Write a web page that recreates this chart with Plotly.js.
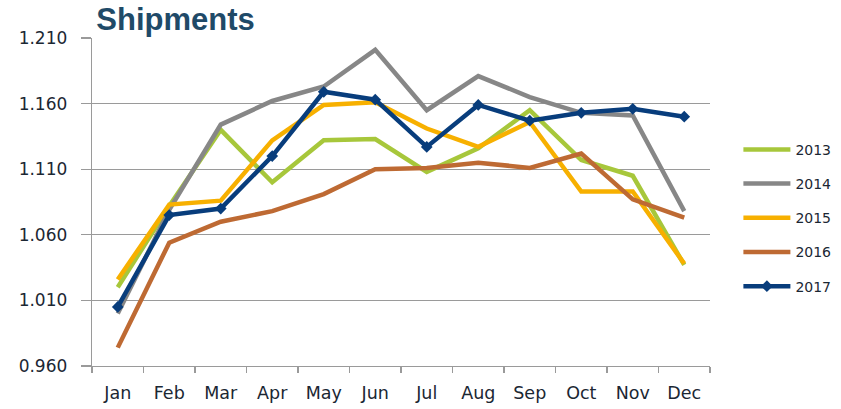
<!DOCTYPE html>
<html>
<head>
<meta charset="utf-8">
<script src="https://cdn.plot.ly/plotly-3.0.1.min.js"></script>
<style>html,body{margin:0;padding:0;background:#fff;}#chart{width:841px;height:409px;}</style>
</head>
<body>
<div id="chart"></div>
<script>
const months = ["Jan","Feb","Mar","Apr","May","Jun","Jul","Aug","Sep","Oct","Nov","Dec"];
const seriesNames = ["2013","2014","2015","2016","2017"];
const v2013 = [1.020, 1.082, 1.140, 1.100, 1.132, 1.133, 1.108, 1.126, 1.155, 1.117, 1.105, 1.037];
const v2014 = [1.000, 1.079, 1.144, 1.162, 1.173, 1.201, 1.155, 1.181, 1.165, 1.153, 1.151, 1.078];
const v2015 = [1.026, 1.083, 1.086, 1.132, 1.159, 1.161, 1.141, 1.127, 1.146, 1.093, 1.093, 1.038];
const v2016 = [0.974, 1.054, 1.070, 1.078, 1.091, 1.110, 1.111, 1.115, 1.111, 1.122, 1.087, 1.073];
const v2017 = [1.005, 1.075, 1.080, 1.120, 1.169, 1.163, 1.127, 1.159, 1.147, 1.153, 1.156, 1.150];
const yTicks = [0.960, 1.010, 1.060, 1.110, 1.160, 1.210];

const allValues = [v2013, v2014, v2015, v2016, v2017];
const colors = ["#A7C73B", "#878787", "#F7B000", "#BE6A33", "#083D7C"];

const traces = allValues.map((vals, i) => {
  const t = {
    type: "scatter",
    mode: i === 4 ? "lines+markers" : "lines",
    name: seriesNames[i],
    legendgroup: "g" + i,
    x: months,
    y: vals,
    line: {color: colors[i], width: 4.5},
    hoverinfo: "skip"
  };
  if (i === 4) t.marker = {symbol: "diamond", size: 9, color: colors[i]};
  return t;
});

const layout = {
  width: 841, height: 409,
  margin: {l: 92, r: 131, t: 38, b: 43},
  paper_bgcolor: "#ffffff",
  plot_bgcolor: "#ffffff",
  showlegend: true,
  title: {
    text: "<b>Shipments</b>",
    font: {family: "Liberation Sans, Arial, sans-serif", size: 31, color: "#1F4A68"},
    xref: "paper", x: 0.007, xanchor: "left",
    yref: "container", y: 0.953, yanchor: "middle"
  },
  xaxis: {
    type: "category",
    range: [-0.5, 11.5],
    tickson: "boundaries",
    ticks: "outside", ticklen: 6, tickcolor: "#9a9a9a", tickwidth: 1.3,
    showgrid: false, showline: true, linecolor: "#9a9a9a", linewidth: 1.3,
    tickfont: {family: "DejaVu Sans, sans-serif", size: 17.5, color: "#1b2733"},
    ticklabelstandoff: 11,
    zeroline: false, fixedrange: true
  },
  yaxis: {
    range: [0.96, 1.21],
    tickmode: "array", tickvals: yTicks,
    tickformat: ".3f",
    ticks: "outside", ticklen: 10, tickcolor: "#9a9a9a", tickwidth: 1.3,
    showgrid: true, gridcolor: "#9a9a9a", gridwidth: 1.3,
    showline: true, linecolor: "#9a9a9a", linewidth: 1.3,
    tickfont: {family: "DejaVu Sans, sans-serif", size: 17, color: "#1b2733"},
    ticklabelstandoff: 10,
    zeroline: false, fixedrange: true
  },
  legend: {
    xref: "container", x: 0.878, xanchor: "left",
    y: 0.708, yanchor: "top",
    font: {family: "DejaVu Sans, sans-serif", size: 14, color: "#1b2733"},
    itemwidth: 47,
    tracegroupgap: 13,
    bgcolor: "rgba(0,0,0,0)"
  },
  hovermode: false
};

Plotly.newPlot("chart", traces, layout, {staticPlot: true, displayModeBar: false});
</script>
</body>
</html>
